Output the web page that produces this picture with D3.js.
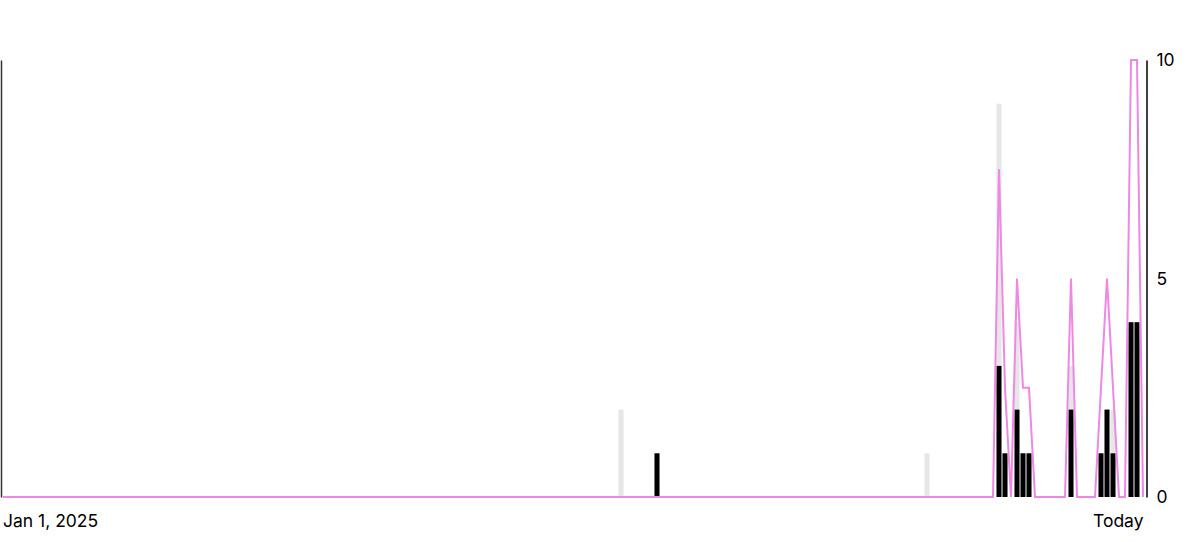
<!DOCTYPE html>
<html><head><meta charset="utf-8">
<script src="https://cdn.jsdelivr.net/npm/d3@7/dist/d3.min.js"></script>
<style>
body{margin:0;background:#fff}
svg{display:block}
text{font-family:Inter,"Noto Sans",sans-serif;}
</style>
</head><body>
<svg id="chart" width="1200" height="542"></svg>
<script>
// ---- data ----
const startDate = "2025-01-01";
const todayDate = "2025-07-10";
const activityDates = ["2025-04-14","2025-04-20","2025-06-04","2025-06-16","2025-06-17","2025-06-19","2025-06-20","2025-06-21","2025-06-28","2025-07-03","2025-07-04","2025-07-05","2025-07-08","2025-07-09"];
const totalCounts = [2, 1, 1, 9, 1, 4, 1, 1, 3, 1, 2, 2, 4, 4];
const keyCounts   = [0, 1, 0, 3, 1, 2, 1, 1, 2, 1, 2, 1, 4, 4];
const trendValues = [0, 0, 0, 7.5, 2.5, 5, 2.5, 2.5, 5, 2.5, 5, 2.5, 10, 10];
const yTicks = [0, 5, 10];
const xLabels = ["Jan 1, 2025", "Today"];

// ---- build daily table ----
const parse = d3.utcParse("%Y-%m-%d");
const fmt = d3.utcFormat("%Y-%m-%d");
const start = parse(startDate), today = parse(todayDate);
const days = d3.utcDay.range(start, d3.utcDay.offset(today, 1));
const byDate = new Map(activityDates.map((d, i) => [d, i]));
const table = days.map(d => {
  const k = fmt(d), i = byDate.get(k);
  return {key: k, total: i === undefined ? 0 : totalCounts[i],
          sub: i === undefined ? 0 : keyCounts[i],
          trend: i === undefined ? 0 : trendValues[i]};
});

// ---- layout ----
const svg = d3.select("#chart");
const M = {left: 1, right: 1146, top: 60, bottom: 497};

const x = d3.scaleBand().domain(table.map(d => d.key)).range([0, M.right]).paddingInner(1/6).paddingOuter(1/12);
const y = d3.scaleLinear().domain([0, 10]).range([M.bottom, M.top]);

// gray bars
svg.append("g").selectAll("rect").data(table.filter(d => d.total > 0)).join("rect")
  .attr("x", d => x(d.key)).attr("width", x.bandwidth())
  .attr("y", d => y(d.total)).attr("height", d => y(0) - y(d.total))
  .attr("fill", "#e6e6e6");

// black bars
svg.append("g").selectAll("rect").data(table.filter(d => d.sub > 0)).join("rect")
  .attr("x", d => x(d.key)).attr("width", x.bandwidth())
  .attr("y", d => y(d.sub)).attr("height", d => y(0) - y(d.sub))
  .attr("fill", "#000");

// pink line
const line = d3.line().x(d => x(d.key) + x.bandwidth() / 2).y(d => y(d.trend));
svg.append("path").datum(table).attr("d", line)
  .attr("fill", "none").attr("stroke", "#ee88e4").attr("stroke-width", 2)
  .attr("stroke-linejoin", "miter");

// left axis (line only)
const la = svg.append("g").attr("transform", `translate(${M.left},0)`)
  .call(d3.axisLeft(y).tickValues([]).tickSizeOuter(0));
la.select(".domain").attr("stroke", "#333").attr("stroke-width", 1.5);

// right axis
const ra = svg.append("g").attr("transform", `translate(${M.right + 0.5},0)`)
  .call(d3.axisRight(y).tickValues(yTicks).tickSize(0).tickPadding(10).tickFormat(d3.format("d")));
ra.select(".domain").attr("stroke", "#000").attr("stroke-width", 1.5);
ra.selectAll("text").attr("font-size", 17.5).attr("fill", "#000")
  .attr("font-family", "Inter, 'Noto Sans', sans-serif");

// x labels
svg.append("text").attr("x", x(table[0].key) + 2.5).attr("y", 527)
  .attr("font-size", 17.5).attr("fill", "#000").text(xLabels[0]);
svg.append("text").attr("x", x(table[table.length - 1].key) + x.bandwidth() - 2).attr("y", 527)
  .attr("text-anchor", "end").attr("font-size", 17.5).attr("fill", "#000").text(xLabels[1]);
</script>
</body></html>
